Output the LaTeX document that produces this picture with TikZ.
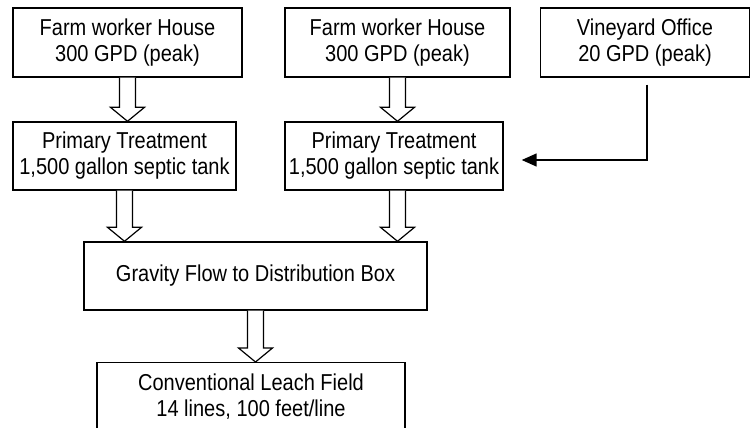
\documentclass[tikz,border=0pt]{standalone}
\usepackage{fontspec}
\setmainfont{Liberation Sans}
\newfontfamily\narrowsans[FakeStretch=0.87]{Liberation Sans}
\usetikzlibrary{arrows.meta,calc}
\tikzset{
  box/.style={draw, line width=1.4pt, align=center, inner sep=0pt,
    font=\narrowsans\fontsize{23}{26}\selectfont},
  blockarrow/.style={draw, line width=1.2pt, fill=white, line join=miter},
  feed/.style={draw, line width=1.5pt, -{Triangle[length=15pt,width=13pt]}}
}
\newcommand\blockarr[2]{%
  \draw[blockarrow] let \p1=(#1.south), \p2=(#2.north) in
    (\x1-8pt,\y1) -- (\x1-8pt,\y2+14pt) -- (\x1-17pt,\y2+14pt) -- (\x1,\y2)
    -- (\x1+17pt,\y2+14pt) -- (\x1+8pt,\y2+14pt) -- (\x1+8pt,\y1);}
\begin{document}
\begin{tikzpicture}[x=1pt,y=-1pt]
\clip (0,0) rectangle (752,428);
\fill[white] (0,0) rectangle (752,428);
\node[box, minimum width=229pt, minimum height=69pt] (h1) at (127.5,42.5) {Farm worker House\\300 GPD (peak)};
\node[box, minimum width=225pt, minimum height=69pt] (h2) at (397.5,42.5) {Farm worker House\\300 GPD (peak)};
\node[box, minimum width=209pt, minimum height=69pt] (vo) at (645,42.5) {Vineyard Office\\20 GPD (peak)};
\node[box, minimum width=223pt, minimum height=68pt] (p1) at (124.5,156) {Primary Treatment\\1,500 gallon septic tank};
\node[box, minimum width=218pt, minimum height=68pt] (p2) at (394,156) {Primary Treatment\\1,500 gallon septic tank};
\node[box, minimum width=343pt, minimum height=68pt] (g) at (255.5,276) {Gravity Flow to Distribution Box};
\node[box, minimum width=308pt, minimum height=68pt, anchor=north] (l) at (251,362) {Conventional Leach Field\\14 lines, 100 feet/line};
\blockarr{h1}{p1}
\blockarr{h2}{p2}
\blockarr{p1}{g}
\draw[blockarrow] let \p1=(h2.south), \p2=(g.north) , \p3=(p2.south) in
    (\x1-8pt,\y3) -- (\x1-8pt,\y2+14pt) -- (\x1-17pt,\y2+14pt) -- (\x1,\y2)
    -- (\x1+17pt,\y2+14pt) -- (\x1+8pt,\y2+14pt) -- (\x1+8pt,\y3);
\blockarr{g}{l}
\draw[feed] ([xshift=2pt,yshift=-7pt]vo.south) |- ([xshift=18pt,yshift=-4pt]p2.east);
\end{tikzpicture}
\end{document}
